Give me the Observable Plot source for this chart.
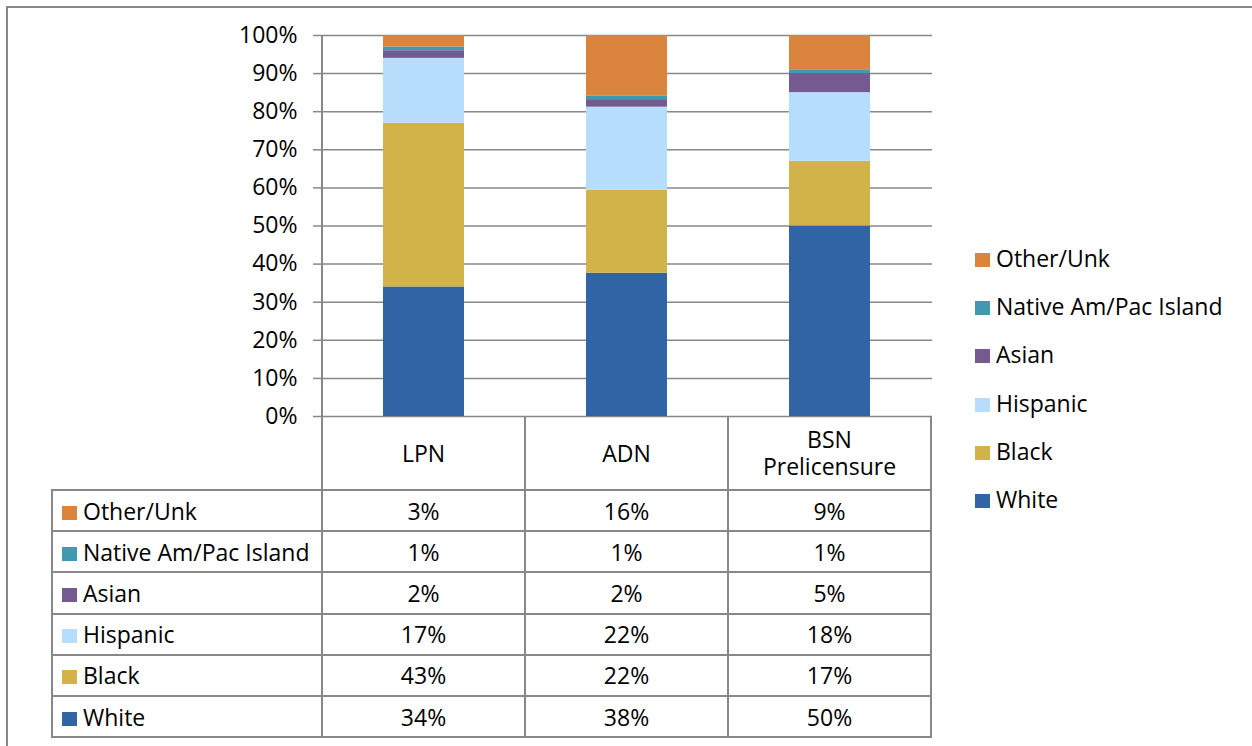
<!DOCTYPE html>
<html>
<head>
<meta charset="utf-8">
<script src="https://cdn.jsdelivr.net/npm/d3@7"></script>
<script src="https://cdn.jsdelivr.net/npm/@observablehq/plot@0.6"></script>
<style>
  html, body { margin: 0; padding: 0; background: #fff; }
  #wrap { position: relative; width: 1252px; height: 746px; overflow: hidden; font-family: "Open Sans", sans-serif; color: #000; }
  #wrap svg { position: absolute; left: 0; top: 0; }
  .ln { position: absolute; background: #888888; }
  .txt { position: absolute; font-size: 23px; line-height: 30px; white-space: nowrap; }
  .sw { display: inline-block; width: 15px; height: 14px; vertical-align: 0px; margin-right: 6px; }
  svg [aria-label^="y-axis"] line, svg [aria-label^="y-axis"] path { stroke: #888888; stroke-width: 1.5px; }
</style>
</head>
<body>
<div id="wrap"></div>
<script>
// ---- data ----
const categories = ["LPN", "ADN", "BSN Prelicensure"];
const categoryLabels = ["LPN", "ADN", "BSN\nPrelicensure"];
const groups = ["White", "Black", "Hispanic", "Asian", "Native Am/Pac Island", "Other/Unk"];
const white    = [34, 38, 50];
const black    = [43, 22, 17];
const hispanic = [17, 22, 18];
const asian    = [2, 2, 5];
const native   = [1, 1, 1];
const other    = [3, 16, 9];
const colors = ["#3164A4", "#D1B34A", "#B7DDFD", "#745A90", "#4299B0", "#DB843D"];
const yTicks = [0, 0.1, 0.2, 0.3, 0.4, 0.5, 0.6, 0.7, 0.8, 0.9, 1.0];

const series = [white, black, hispanic, asian, native, other];
const rows = [];
groups.forEach((g, gi) => categories.forEach((c, ci) => rows.push({category: c, group: g, value: series[gi][ci]})));

const W = 1252, H = 746;
const chart = Plot.plot({
  width: W, height: H,
  marginTop: 35, marginBottom: 330, marginLeft: 321, marginRight: 320,
  style: {fontFamily: "Open Sans, sans-serif", fontSize: "23px", background: "transparent", color: "#000"},
  x: {domain: categories, paddingInner: 0.6, paddingOuter: 0.3, axis: null},
  y: {domain: [0, 1], ticks: yTicks, tickFormat: d3.format(".0%"), tickSize: 8, tickPadding: 16, label: null},
  color: {domain: groups, range: colors},
  marks: [
    Plot.ruleY(yTicks, {stroke: "#888888", strokeWidth: 1.5}),
    Plot.barY(rows, Plot.stackY({x: "category", y: "value", fill: "group", order: groups, offset: "normalize"}))
  ]
});
const wrap = document.getElementById("wrap");
wrap.appendChild(chart);

const xs = chart.scale("x"), ys = chart.scale("y");
const gap = (xs.step - xs.bandwidth) / 2;
const colLeft = categories.map(c => xs.apply(c) - gap);
const colRight = categories.map(c => xs.apply(c) + xs.bandwidth + gap);
const plotLeft = colLeft[0], plotRight = colRight[colRight.length - 1];
const y0 = ys.apply(0), y1 = ys.apply(1);

const headerBottom = 490, tableLeft = 52, rowH = 41.2;
const tableBottom = headerBottom + rowH * groups.length;

function line(x, y, w, h) {
  const d = document.createElement("div");
  d.className = "ln";
  Object.assign(d.style, {left: x + "px", top: y + "px", width: w + "px", height: h + "px"});
  wrap.appendChild(d);
}
function text(html, x, y, w, align) {
  const d = document.createElement("div");
  d.className = "txt";
  d.innerHTML = html;
  Object.assign(d.style, {left: x + "px", top: y + "px", width: w + "px", textAlign: align});
  wrap.appendChild(d);
  return d;
}

// outer frame
line(6, 6, W - 6, 2);
line(6, 6, 2, H - 6);

// vertical lines
line(plotLeft - 1, y1, 2, tableBottom - y1 + 1);
colRight.forEach(x => line(x - 1, y0, 2, tableBottom - y0 + 1));
line(tableLeft - 1, headerBottom - 1, 2, tableBottom - headerBottom + 2);
// horizontal lines
for (let i = 0; i <= groups.length; i++) {
  line(tableLeft - 1, headerBottom + rowH * i - 1, plotRight - tableLeft + 2, 2);
}

// header labels
categoryLabels.forEach((lab, i) => {
  const d = text("", colLeft[i], 0, colRight[i] - colLeft[i], "center");
  d.style.whiteSpace = "pre-line";
  d.style.lineHeight = "27px";
  d.textContent = lab;
  const h = d.offsetHeight;
  d.style.top = ((y0 + headerBottom) / 2 - h / 2) + "px";
});

// table body (top row = last group)
const order = groups.slice().reverse();
order.forEach((g, r) => {
  const gi = groups.indexOf(g);
  const cy = headerBottom + rowH * r + rowH / 2 - 15;
  text(`<span class="sw" style="background:${colors[gi]}"></span>${g}`, tableLeft + 10, cy, 270, "left");
  categories.forEach((c, ci) => {
    text(series[gi][ci] + "%", colLeft[ci], cy, colRight[ci] - colLeft[ci], "center");
  });
});

// legend
const legX = 975, legY0 = 258, legStep = 48.2;
order.forEach((g, r) => {
  const gi = groups.indexOf(g);
  text(`<span class="sw" style="background:${colors[gi]}"></span>${g}`, legX, legY0 + legStep * r - 15, 270, "left");
});
</script>
</body>
</html>
